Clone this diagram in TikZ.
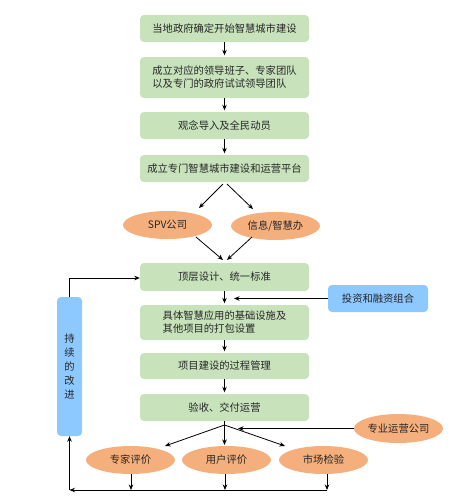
\documentclass[tikz,border=0pt]{standalone}
\usepackage{fontspec}
\setmainfont{Noto Sans CJK SC}
\usetikzlibrary{arrows.meta,shapes.geometric}
\definecolor{boxgreen}{HTML}{C8E3BC}
\definecolor{ellorange}{HTML}{F4AF7D}
\definecolor{boxblue}{HTML}{8DC8FF}
\begin{document}
\begin{tikzpicture}[x=1pt,y=-1pt,
  every node/.style={font=\fontsize{10.3}{13}\selectfont, text=black!85, inner sep=0pt, align=center},
  gbox/.style={fill=boxgreen, rounded corners=4pt, minimum width=169pt},
  obox/.style={ellipse, fill=ellorange, minimum width=89pt, minimum height=28pt},
  bbox/.style={fill=boxblue, rounded corners=4pt},
  arr/.style={draw=black, line width=0.8pt, -{Stealth[length=5.5pt,width=4.5pt]}},
  ln/.style={draw=black, line width=0.8pt}]
\useasboundingbox[fill=white] (0,0) rectangle (464,501);
% green boxes
\node[gbox, minimum height=27pt] (b1) at (224.5,28.5) {当地政府确定开始智慧城市建设};
\node[gbox, minimum height=41pt, align=left] (b2) at (224.5,77.5) {成立对应的领导班子、专家团队\\以及专门的政府试试领导团队};
\node[gbox, minimum height=27pt] (b3) at (224.5,125.5) {观念导入及全民动员};
\node[gbox, minimum height=27pt] (b4) at (224.5,168.5) {成立专门智慧城市建设和运营平台};
\node[gbox, minimum height=28pt] (b5) at (224.5,277) {顶层设计、统一标准};
\node[gbox, minimum height=35pt, align=left] (b6) at (224.5,322.5) {具体智慧应用的基础设施及\\其他项目的打包设置};
\node[gbox, minimum height=26pt] (b7) at (224.5,366) {项目建设的过程管理};
\node[gbox, minimum height=27pt] (b8) at (224.5,407.5) {验收、交付运营};
% ellipses
\node[obox] (spv) at (167.5,225) {SPV公司};
\node[obox] (xx) at (275.5,226) {信息/智慧办};
\node[obox, minimum height=29pt] (op) at (398.5,428.5) {专业运营公司};
\node[obox] (e3) at (130.5,460) {专家评价};
\node[obox] (e4) at (226.5,460) {用户评价};
\node[obox] (e5) at (323.5,460) {市场检验};
% blue boxes
\node[bbox, minimum width=100pt, minimum height=27pt] (inv) at (378,298.5) {投资和融资组合};
\node[bbox, minimum width=25pt, minimum height=139pt] (imp) at (69.5,366.5) {持\\[1pt]续\\[1pt]的\\[1pt]改\\[1pt]进};
% coordinates
\coordinate (s1) at (223,184);
\coordinate (s2) at (227,184);
\coordinate (t1) at (199,208);
\coordinate (t2) at (253,209);
\coordinate (u1) at (196,237);
\coordinate (u2) at (252,237);
\coordinate (m1) at (223,260);
\coordinate (m2) at (227,260);
\coordinate (inva) at (234,298.5);
\coordinate (j1) at (224.5,425);
\coordinate (opa) at (238,428.5);
\coordinate (k3) at (165,446);
\coordinate (k4) at (224.5,445);
\coordinate (k5) at (285,446);
\coordinate (c3) at (131,490);
\coordinate (c4) at (225,490);
\coordinate (c5) at (327,490);
\coordinate (bl) at (69.5,490);
\coordinate (tl) at (69.5,278);
% connectors
\draw[arr, shorten >=1.5pt] (b1) -- (b2);
\draw[arr, shorten >=1.5pt] (b2) -- (b3);
\draw[arr, shorten >=1.5pt] (b3) -- (b4);
\draw[arr] (s1) -- (t1);
\draw[arr] (s2) -- (t2);
\draw[arr] (u1) -- (m1);
\draw[arr] (u2) -- (m2);
\draw[arr, shorten >=1.5pt] (b5) -- (b6);
\draw[arr] (inv.west) -- (inva);
\draw[arr, shorten >=1.5pt] (b6) -- (b7);
\draw[arr, shorten >=1.5pt] (b7) -- (b8);
\draw[ln] (b8.south) -- (j1);
\draw[arr] (j1) -- (k3);
\draw[arr] (j1) -- (k4);
\draw[arr] (j1) -- (k5);
\draw[arr] (op.west) -- (opa);
\draw[arr] (e3.south -| c3) -- (c3);
\draw[arr] (e4.south -| c4) -- (c4);
\draw[arr] (e5.south -| c5) -- (c5);
\draw[arr] (c5) -- (bl);
\draw[arr] (bl) -- (imp.south);
\draw[arr] (imp.north) -- (tl) -- (b5.west |- tl);
\end{tikzpicture}
\end{document}
